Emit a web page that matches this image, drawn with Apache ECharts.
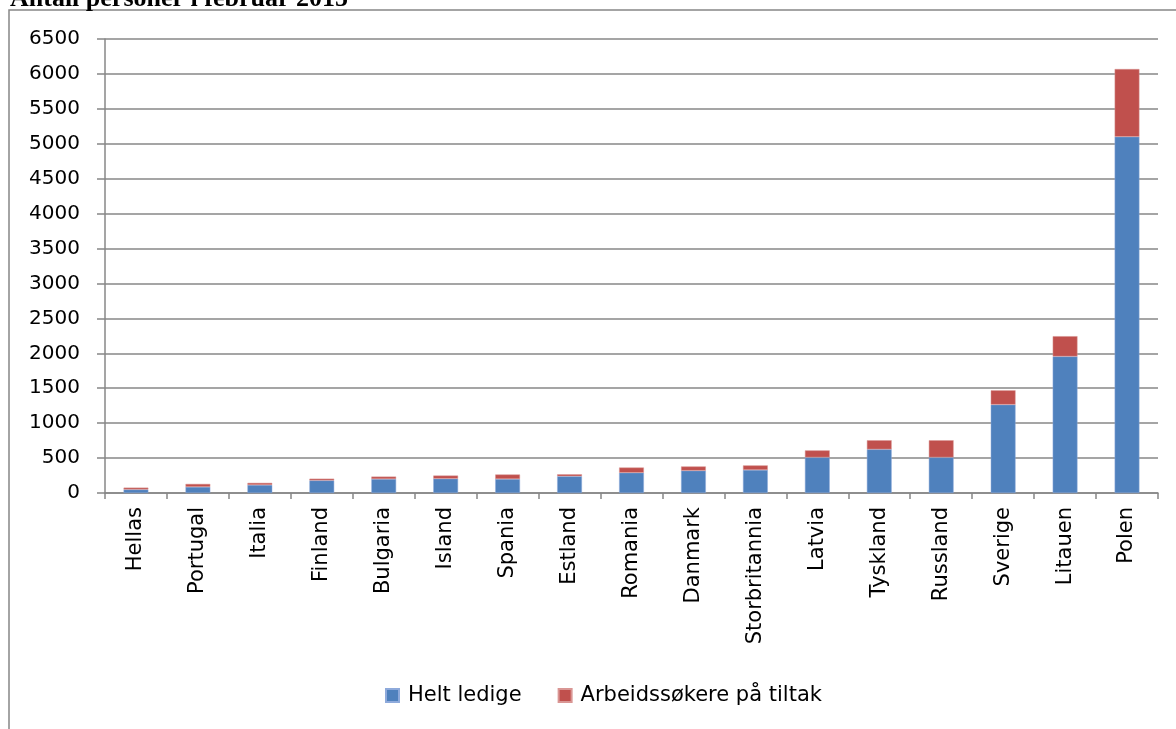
<!DOCTYPE html>
<html>
<head>
<meta charset="utf-8">
<script src="https://cdn.jsdelivr.net/npm/echarts@6/dist/echarts.min.js"></script>
<style>
html,body{margin:0;padding:0;background:#fff;}
#c{width:1176px;height:729px;}
</style>
</head>
<body>
<div id="c"></div>
<script>
const categories = ['Hellas','Portugal','Italia','Finland','Bulgaria','Island','Spania','Estland','Romania','Danmark','Storbritannia','Latvia','Tyskland','Russland','Sverige','Litauen','Polen'];
const heltLedige = [50, 87, 115, 180, 200, 205, 200, 240, 290, 320, 330, 510, 625, 510, 1265, 1955, 5100];
const tiltak = [27, 43, 30, 25, 35, 45, 65, 28, 75, 60, 65, 100, 130, 245, 205, 290, 970];
const seriesNames = ['Helt ledige', 'Arbeidssøkere på tiltak'];
const titleText = 'Antall personer i februar 2015';

const FONT = 'DejaVu Sans';
const GRAY = '#878787';
const chart = echarts.init(document.getElementById('c'));
chart.setOption({
  animation: false,
  backgroundColor: '#fff',
  title: {
    text: titleText,
    left: 5,
    top: -19,
    textStyle: {fontFamily: 'Liberation Serif', fontWeight: 'bold', fontSize: 26, color: '#000'}
  },
  graphic: [{
    type: 'rect',
    shape: {x: 9, y: 10, width: 1300, height: 900},
    style: {fill: 'none', stroke: GRAY, lineWidth: 1.5},
    z: -1
  }],
  legend: {
    data: seriesNames,
    left: 380,
    top: 680,
    icon: 'rect',
    itemWidth: 13,
    itemHeight: 13,
    itemGap: 36,
    textStyle: {fontFamily: FONT, fontSize: 21, color: '#000', padding: [0,0,0,4]}
  },
  grid: {left: 105, right: 18, top: 39, bottom: 236, containLabel: false},
  xAxis: {
    type: 'category',
    data: categories,
    axisLine: {lineStyle: {color: GRAY, width: 1.5}},
    axisTick: {show: true, length: 6, lineStyle: {color: GRAY, width: 1.5}, alignWithLabel: false},
    axisLabel: {rotate: 90, margin: 14, fontFamily: FONT, fontSize: 21, color: '#000'}
  },
  yAxis: {
    type: 'value',
    min: 0,
    max: 6500,
    interval: 500,
    axisLine: {show: true, lineStyle: {color: GRAY, width: 1.5}},
    axisTick: {show: true, length: 8, lineStyle: {color: GRAY, width: 1.5}},
    splitLine: {lineStyle: {color: GRAY, width: 1.5}},
    axisLabel: {margin: 25, fontFamily: FONT, fontSize: 20, color: '#000', formatter: v => String(v)}
  },
  series: [
    {name: seriesNames[0], type: 'bar', stack: 'a', data: heltLedige, barWidth: '40%',
     itemStyle: {color: '#4F81BD', borderColor: '#8EAADB', borderWidth: 0.5}},
    {name: seriesNames[1], type: 'bar', stack: 'a', data: tiltak, barWidth: '40%',
     itemStyle: {color: '#C0504D', borderColor: '#D99694', borderWidth: 0.5}}
  ]
});
</script>
</body>
</html>
